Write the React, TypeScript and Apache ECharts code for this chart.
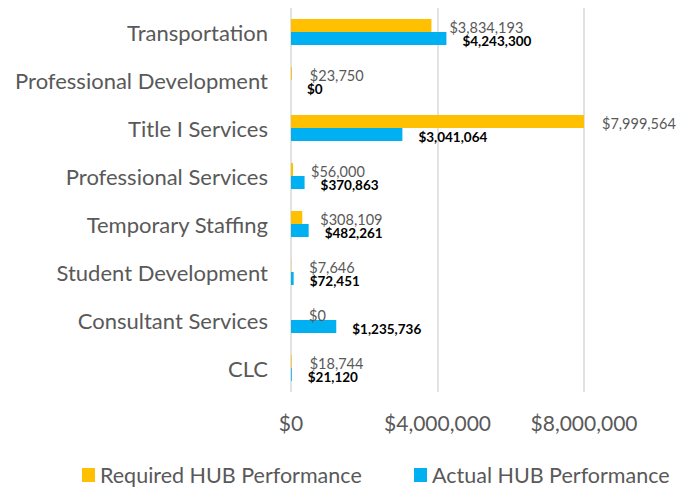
import React, { useEffect, useRef } from "react";
import * as echarts from "echarts";

const categories = [
  "Transportation",
  "Professional Development",
  "Title I Services",
  "Professional Services",
  "Temporary Staffing",
  "Student Development",
  "Consultant Services",
  "CLC",
];
const requiredHub = [3834193, 23750, 7999564, 56000, 308109, 7646, 0, 18744];
const actualHub = [4243300, 0, 3041064, 370863, 482261, 72451, 1235736, 21120];
const xTicks = [0, 4000000, 8000000];

const FONT = "Lato";
const fmt = (v: number) => "$" + Math.round(v).toLocaleString("en-US");

export default function App() {
  const ref = useRef<HTMLDivElement>(null);
  useEffect(() => {
    if (!ref.current) return;
    const chart = echarts.init(ref.current, undefined, { renderer: "svg" });
    const legendText = { color: "#595959", fontSize: 21.5, fontFamily: FONT, lineHeight: 20 };
    chart.setOption({
      animation: false,
      textStyle: { fontFamily: FONT },
      grid: { left: 291, top: 8, width: 293, height: 384, containLabel: false },
      legend: [
        {
          data: ["Required HUB Performance"],
          left: 82,
          top: 464,
          padding: 0,
          icon: "rect",
          itemWidth: 13,
          itemHeight: 14,
          textStyle: legendText,
        },
        {
          data: ["Actual HUB Performance"],
          left: 414,
          top: 464,
          padding: 0,
          icon: "rect",
          itemWidth: 13,
          itemHeight: 14,
          textStyle: legendText,
        },
      ],
      xAxis: {
        type: "value",
        min: xTicks[0],
        max: xTicks[xTicks.length - 1],
        interval: xTicks[1] - xTicks[0],
        axisLine: { show: false },
        axisTick: { show: false },
        splitLine: { show: true, lineStyle: { color: "#d9d9d9", width: 1.5 } },
        axisLabel: {
          color: "#595959",
          fontSize: 21,
          margin: 20,
          formatter: (v: number) => fmt(v),
        },
      },
      yAxis: {
        type: "category",
        data: categories,
        inverse: true,
        axisLine: { show: false },
        axisTick: { show: false },
        splitLine: { show: false },
        axisLabel: { color: "#595959", fontSize: 22, margin: 23 },
      },
      series: [
        {
          name: "Required HUB Performance",
          type: "bar",
          data: requiredHub,
          barWidth: 13,
          barGap: "0%",
          itemStyle: { color: "#FFC000" },
          label: {
            show: true,
            position: "right",
            distance: 18,
            offset: [0, 1.5],
            color: "#595959",
            fontSize: 14.5,
            lineHeight: 12,
            fontFamily: FONT,
            formatter: (p: any) => fmt(p.value),
          },
        },
        {
          name: "Actual HUB Performance",
          type: "bar",
          data: actualHub,
          barWidth: 13,
          barGap: "0%",
          itemStyle: { color: "#00B0F0" },
          label: {
            show: true,
            position: "right",
            distance: 16,
            offset: [0, 2],
            color: "#000000",
            fontWeight: "bold",
            fontSize: 13.5,
            lineHeight: 11,
            fontFamily: FONT,
            formatter: (p: any) => fmt(p.value),
          },
        },
      ],
    });
    return () => chart.dispose();
  }, []);
  return <div ref={ref} style={{ width: 687, height: 488, position: "absolute", left: 0, top: 0 }} />;
}
